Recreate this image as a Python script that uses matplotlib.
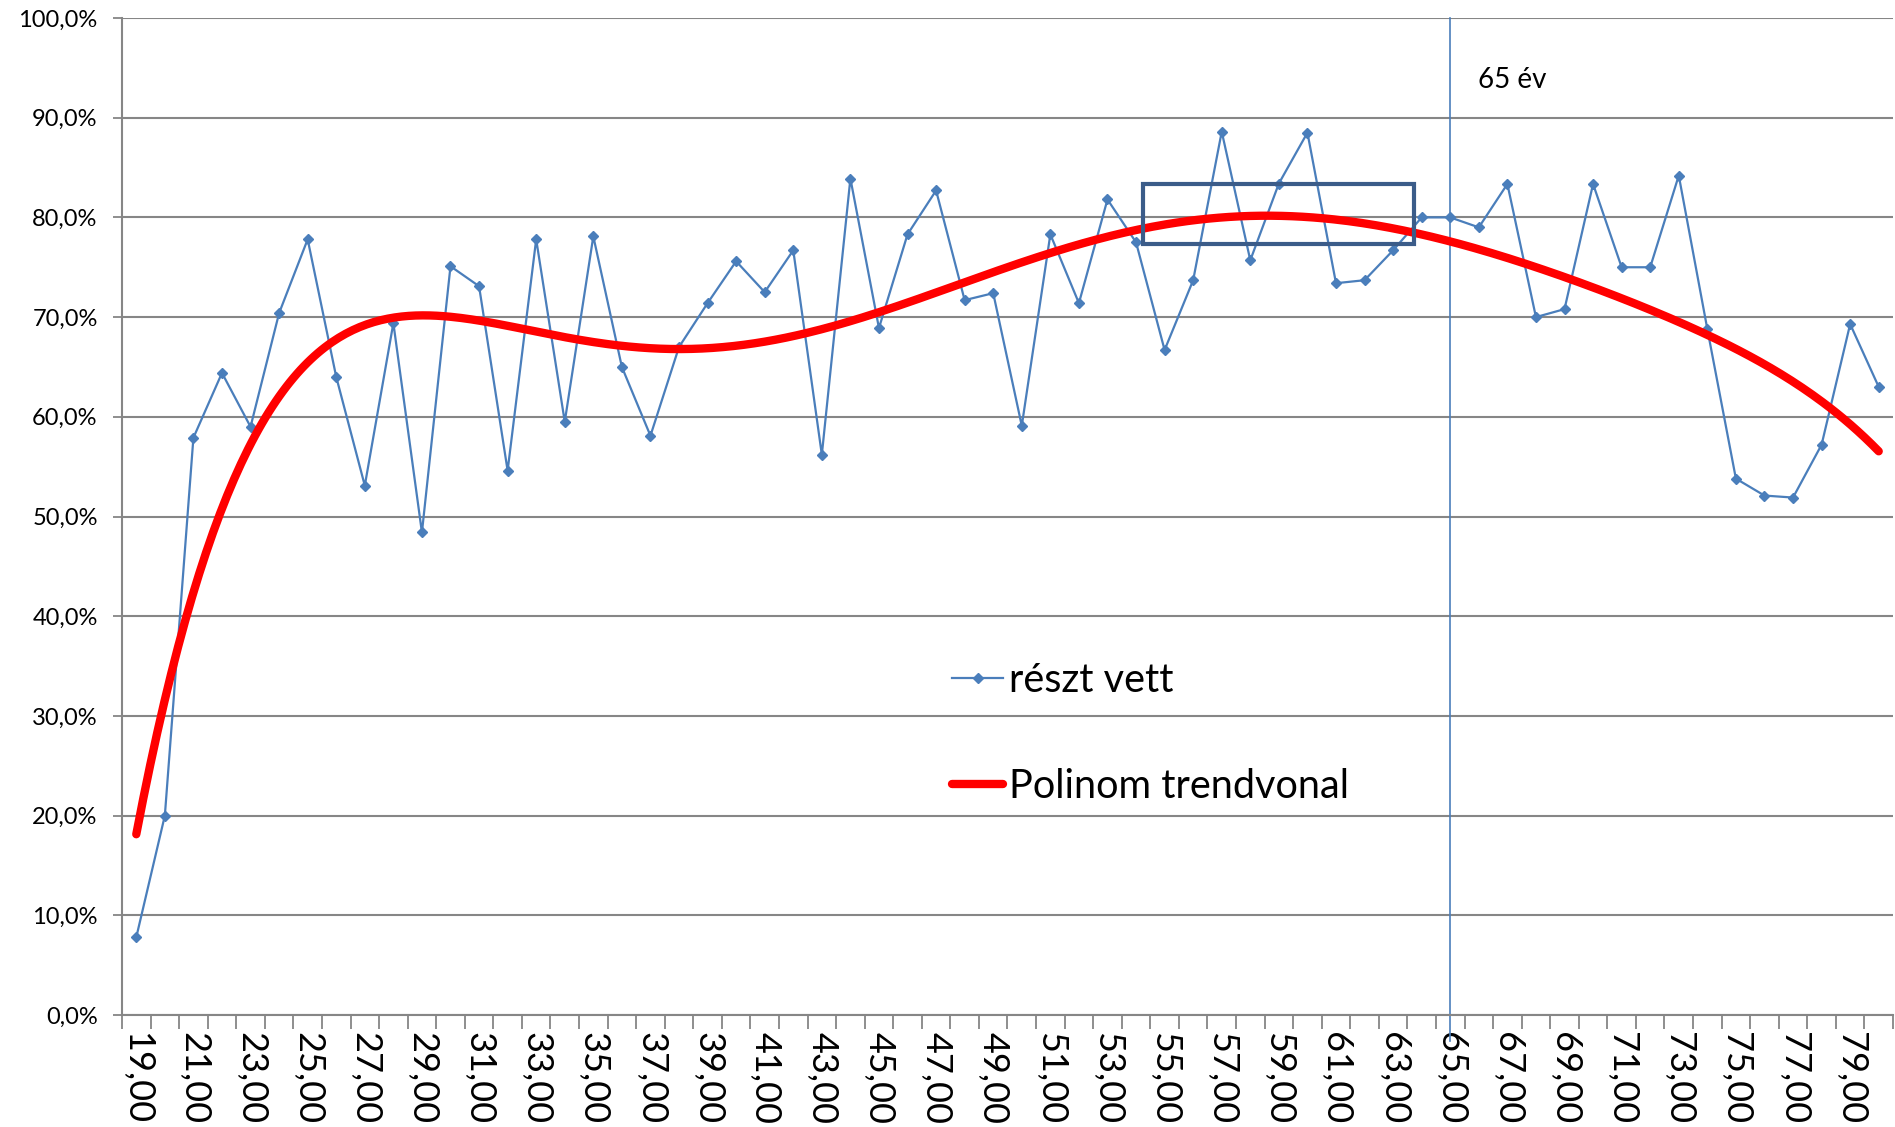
import numpy as np
import matplotlib
matplotlib.use("Agg")
import matplotlib.pyplot as plt
from matplotlib.patches import Rectangle
from matplotlib.ticker import FixedLocator, FuncFormatter

plt.rcParams['font.family'] = ['Lato', 'DejaVu Sans']

# életkor (19..80) és a részvételi arány (%)
eletkor = list(range(19, 81))
reszt_vett = [
    7.8, 20.0, 57.9, 64.4, 59.0, 70.4, 77.8, 64.0, 53.1, 69.4,   # 19-28
    48.4, 75.1, 73.1, 54.6, 77.8, 59.5, 78.1, 65.0, 58.1, 67.0,  # 29-38
    71.4, 75.6, 72.5, 76.7, 56.2, 83.9, 68.9, 78.3, 82.7, 71.7,  # 39-48
    72.4, 59.1, 78.3, 71.4, 81.8, 77.5, 66.7, 73.7, 88.6, 75.7,  # 49-58
    83.4, 88.5, 73.4, 73.7, 76.7, 80.0, 80.0, 79.0, 83.35, 70.0, # 59-68
    70.8, 83.35, 75.0, 75.0, 84.2, 68.8, 53.8, 52.1, 51.9, 57.2, # 69-78
    69.3, 63.0,                                                  # 79-80
]
trend_fok = 6          # polinom trendvonal foka
hatar_kor = 65         # "65 év" jelölés
keret_x = (54.24, 63.74)
keret_y = (77.33, 83.35)

kek = '#4A7EBB'
szurke = '#868686'

fig = plt.figure(figsize=(18.95, 11.27), dpi=100)
ax = fig.add_axes([122/1895, 1 - 1015/1127, (1893-122)/1895, (1015-18)/1127])

ax.plot(eletkor, reszt_vett, color=kek, lw=1.6, marker='D', ms=5.5,
        label='részt vett', zorder=3)

p = np.polynomial.Polynomial.fit(eletkor, reszt_vett, trend_fok)
xs = np.linspace(eletkor[0], eletkor[-1], 500)
ax.plot(xs, p(xs), color='#FF0000', lw=6, solid_capstyle='round',
        label='Polinom trendvonal', zorder=4)

ax.plot([hatar_kor, hatar_kor], [100, -2.6], color=kek, lw=1.2,
        clip_on=False, zorder=2)
ax.text(65.96, 93.0, '65 év', fontsize=20, ha='left', va='baseline')

ax.add_patch(Rectangle((keret_x[0], keret_y[0]), keret_x[1]-keret_x[0],
                       keret_y[1]-keret_y[0], fill=False,
                       edgecolor='#3B5C89', lw=3, zorder=5))

ax.set_xlim(eletkor[0]-0.5, eletkor[-1]+0.5)
ax.set_ylim(0, 100)

ax.yaxis.set_major_locator(FixedLocator(np.arange(0, 101, 10)))
ax.yaxis.set_major_formatter(FuncFormatter(lambda v, _: f"{v:.1f}%".replace('.', ',')))
ax.grid(axis='y', color=szurke, lw=1.5)
ax.set_axisbelow(True)

ax.xaxis.set_major_locator(FixedLocator(eletkor[::2]))
ax.xaxis.set_major_formatter(FuncFormatter(lambda v, _: f"{v:.2f}".replace('.', ',')))
ax.xaxis.set_minor_locator(FixedLocator(np.arange(eletkor[0]-0.5, eletkor[-1]+1, 1)))
ax.tick_params(axis='x', which='major', length=0, pad=12.5, labelsize=26,
               labelrotation=-90)
ax.tick_params(axis='x', which='minor', length=10, width=1.3, color=szurke,
               direction='out')
ax.tick_params(axis='y', length=6.5, width=1.3, color=szurke, pad=11,
               labelsize=17)

for s in ['top', 'right']:
    ax.spines[s].set_visible(False)
for s in ['left', 'bottom']:
    ax.spines[s].set_color(szurke)
    ax.spines[s].set_linewidth(1.5)

ax.legend(loc='upper left', bbox_to_anchor=(952/1895, 1 - 662/1127),
          bbox_transform=fig.transFigure, frameon=False, fontsize=28.5,
          handlelength=1.3, handletextpad=0.15, labelspacing=1.75,
          borderpad=0, borderaxespad=0, numpoints=1)

fig.savefig('out.png', dpi=100)
